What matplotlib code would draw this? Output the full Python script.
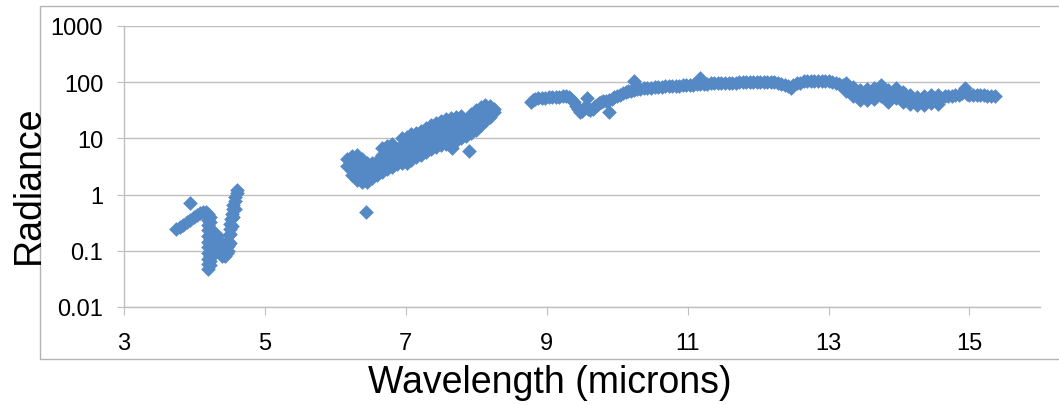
# Radiance spectrum, log scale, Excel style scatter.

import matplotlib
matplotlib.use("Agg")
import matplotlib.pyplot as plt
from matplotlib.patches import Rectangle

# Short wave band (3.7 - 4.6 microns).
wl_short = [3.74, 3.79, 3.84, 3.89, 3.94, 3.99, 4.04, 4.08, 4.12, 4.16, 3.93,
            4.19, 4.19, 4.19, 4.19, 4.19, 4.19, 4.19, 4.19, 4.19, 4.19, 4.19,
            4.22, 4.22, 4.22, 4.22, 4.22, 4.22, 4.22, 4.22, 4.22, 4.22,
            4.25, 4.26, 4.28, 4.30, 4.32, 4.34, 4.36, 4.38, 4.40, 4.42, 4.44,
            4.27, 4.31, 4.35, 4.39,
            4.46, 4.47, 4.48, 4.49, 4.50, 4.51, 4.52, 4.53, 4.54, 4.55, 4.57,
            4.58, 4.60, 4.61,
            4.48, 4.50, 4.51, 4.53, 4.55, 4.57]
rad_short = [0.24, 0.26, 0.29, 0.32, 0.36, 0.40, 0.44, 0.48, 0.50, 0.50, 0.72,
             0.45, 0.36, 0.29, 0.23, 0.18, 0.145, 0.115, 0.09, 0.072, 0.058, 0.048,
             0.40, 0.32, 0.25, 0.20, 0.16, 0.13, 0.10, 0.08, 0.065, 0.055,
             0.09, 0.12, 0.15, 0.18, 0.19, 0.16, 0.13, 0.11, 0.095, 0.085, 0.08,
             0.085, 0.10, 0.095, 0.08,
             0.09, 0.12, 0.15, 0.19, 0.24, 0.30, 0.37, 0.45, 0.55, 0.65, 0.78,
             0.92, 1.05, 1.2,
             0.10, 0.14, 0.20, 0.28, 0.40, 0.55]

# Middle band (6.2 - 8.3 microns), noisy.
wl_mid = [6.17, 6.17,
          6.24, 6.24, 6.24,
          6.31, 6.31, 6.31, 6.31,
          6.38, 6.38, 6.38, 6.38,
          6.45, 6.45, 6.45, 6.45,
          6.52, 6.52, 6.52,
          6.59, 6.59, 6.59,
          6.66, 6.66, 6.66, 6.66,
          6.73, 6.73, 6.73, 6.73,
          6.80, 6.80, 6.80, 6.80,
          6.87, 6.87, 6.87,
          6.94, 6.94, 6.94, 6.94,
          7.01, 7.01, 7.01, 7.01,
          7.08, 7.08, 7.08, 7.08,
          7.15, 7.15, 7.15, 7.15,
          7.22, 7.22, 7.22, 7.22,
          7.29, 7.29, 7.29, 7.29,
          7.36, 7.36, 7.36, 7.36,
          7.43, 7.43, 7.43, 7.43,
          7.50, 7.50, 7.50, 7.50,
          7.57, 7.57, 7.57, 7.57,
          7.64, 7.64, 7.64, 7.64,
          7.71, 7.71, 7.71, 7.71,
          7.78, 7.78, 7.78, 7.78,
          7.85, 7.85, 7.85,
          7.92, 7.92, 7.92, 7.92,
          7.99, 7.99, 7.99, 7.99,
          8.06, 8.06, 8.06, 8.06,
          8.13, 8.13, 8.13, 8.13,
          8.20, 8.20, 8.20,
          8.25, 8.25,
          6.43, 7.66, 7.90]
rad_mid = [3.2, 4.3,
           2.2, 3.3, 4.8,
           1.8, 2.8, 4.0, 5.0,
           1.7, 2.5, 3.3, 4.3,
           1.7, 2.4, 3.0, 3.7,
           2.0, 2.8, 3.7,
           2.2, 3.0, 4.0,
           2.5, 3.6, 5.0, 6.8,
           2.8, 4.0, 5.3, 7.4,
           3.1, 4.4, 5.8, 7.8,
           3.5, 5.0, 6.3,
           3.7, 5.5, 7.5, 10,
           3.6, 5.3, 7.2, 10.5,
           4.1, 6.0, 8.2, 12,
           4.6, 6.8, 9.2, 12.5,
           5.1, 7.5, 10, 13.5,
           5.8, 8.4, 11, 15,
           6.4, 9.2, 12.5, 17,
           7.0, 10, 13.5, 19,
           7.5, 10.5, 14, 20,
           8.0, 11, 15, 22,
           8.3, 11.5, 16, 23,
           9.0, 12.5, 17, 24,
           10.0, 13.5, 18, 25,
           11.0, 15, 20,
           12.5, 17, 22, 27,
           14, 19, 25, 32,
           17, 23, 29, 36,
           20, 27, 33, 39,
           24, 30, 37,
           29, 34,
           0.5, 6.8, 5.9]

# Long wave band (8.8 - 15.4 microns).
wl_long = [8.77, 8.80, 8.84, 8.88, 8.93, 8.98, 9.03, 9.08, 9.13, 9.18, 9.23, 9.28,
           9.32, 9.35, 9.38, 9.41, 9.44, 9.47, 9.50, 9.53, 9.56, 9.57, 9.59, 9.62,
           9.65, 9.68, 9.71, 9.74, 9.77, 9.80, 9.84, 9.88, 9.88, 9.92, 9.96, 10.00,
           10.04, 10.08, 10.12, 10.16, 10.20, 10.24, 10.24, 10.28, 10.33, 10.38,
           10.43, 10.48, 10.53, 10.58, 10.63, 10.68, 10.73, 10.78, 10.83, 10.88,
           10.93, 10.98, 11.03, 11.08, 11.13, 11.18, 11.18, 11.23, 11.28, 11.33,
           11.38, 11.43, 11.48, 11.53, 11.58, 11.63, 11.68, 11.73, 11.78, 11.83,
           11.88, 11.93, 11.98, 12.03, 12.08, 12.13, 12.18, 12.23, 12.28, 12.33,
           12.38, 12.43, 12.47, 12.50, 12.55, 12.60, 12.65, 12.70, 12.75, 12.80,
           12.85, 12.90, 12.95, 13.00, 13.05, 13.10, 13.15, 13.20, 13.25, 13.30,
           13.35, 13.40, 13.45, 13.50, 13.55, 13.60, 13.65, 13.70, 13.75, 13.80,
           13.85, 13.90, 13.95, 14.00, 14.05, 14.10, 14.15, 14.20, 14.25, 14.30,
           14.35, 14.40, 14.45, 14.50, 14.55, 14.60, 14.65, 14.70, 14.75, 14.80,
           14.85, 14.90, 14.93, 14.96, 15.00, 15.05, 15.10, 15.15, 15.20, 15.25,
           15.30, 15.36,
           13.25, 13.35, 13.45, 13.55, 13.65, 13.75, 13.85, 13.95, 14.05, 14.15,
           14.25, 14.35, 14.45, 14.55,
           13.25, 13.35, 13.45, 13.55, 13.65, 13.75, 13.85, 13.95, 14.05, 14.15,
           14.25, 14.35, 14.45, 14.55]
rad_long = [45, 48, 50, 52, 52, 53, 54, 54, 55, 55, 56, 56,
            55, 50, 44, 38, 33, 30, 31, 35, 38, 52, 34, 32,
            34, 37, 40, 43, 45, 46, 47, 29, 48, 50, 54, 57,
            60, 63, 66, 69, 71, 105, 73, 75, 77, 78,
            79, 80, 81, 82, 83, 84, 85, 85, 86, 87,
            88, 89, 90, 90, 91, 120, 92, 93, 94, 95,
            96, 96, 97, 97, 98, 98, 98, 99, 99, 99,
            100, 100, 101, 101, 102, 102, 102, 100, 97, 93,
            90, 84, 80, 88, 95, 98, 103, 105, 106, 106,
            106, 105, 105, 104, 102, 98, 93, 88, 82, 75,
            68, 62, 60, 65, 60, 58, 62, 68, 72, 66,
            55, 62, 66, 60, 55, 50, 48, 46, 45, 46,
            47, 48, 50, 52, 46, 52, 56, 57, 57, 58,
            60, 64, 78, 62, 58, 58, 58, 58, 58, 57,
            57, 56,
            95, 82, 72, 75, 78, 88, 72, 78, 66, 58,
            55, 56, 60, 58,
            70, 56, 49, 48, 51, 57, 45, 53, 45, 41,
            39, 40, 42, 41]

y_ticks = [0.01, 0.1, 1, 10, 100, 1000]
y_labels = ["0.01", "0.1", "1", "10", "100", "1000"]
x_ticks = [3, 5, 7, 9, 11, 13, 15]

plt.rcParams['font.family'] = ['Liberation Sans', 'DejaVu Sans']

fig = plt.figure(figsize=(10.59, 4.06), dpi=100)
ax = fig.add_axes([0.1171, 0.2414, 0.8649, 0.6921])

blue = '#5589c6'
grey = '#bfbfbf'
ax.scatter(wl_short + wl_mid + wl_long, rad_short + rad_mid + rad_long,
           marker='D', s=56, color=blue, linewidths=0, zorder=3)

ax.set_yscale('log')
ax.set_ylim(0.01, 1000)
ax.set_xlim(3, 16)
ax.set_yticks(y_ticks)
ax.set_yticklabels(y_labels)
ax.minorticks_off()
ax.set_xticks(x_ticks)
ax.set_xticklabels([str(t) for t in x_ticks])

ax.grid(axis='y', color=grey, linewidth=1)
ax.set_axisbelow(True)
for side in ['top', 'right']:
    ax.spines[side].set_visible(False)
for side in ['left', 'bottom']:
    ax.spines[side].set_color(grey)
    ax.spines[side].set_linewidth(1)
ax.tick_params(axis='y', colors=grey, labelcolor='black', length=5,
               labelsize=17, pad=10)
ax.tick_params(axis='x', colors=grey, labelcolor='black', length=6,
               labelsize=17, pad=12)

fig.text(550 / 1059, 1 - 383 / 406, 'Wavelength (microns)', fontsize=27,
         ha='center', va='center')
fig.text(29 / 1059, 1 - 185 / 406, 'Radiance', fontsize=27, rotation=90,
         ha='center', va='center')

# Chart area border.
fig.patches.append(Rectangle((40 / 1059, 1 - 360 / 406), 1.0, 353 / 406,
                             transform=fig.transFigure, fill=False,
                             edgecolor='#b4b4b4', linewidth=1))

fig.savefig('out.png', dpi=100)
